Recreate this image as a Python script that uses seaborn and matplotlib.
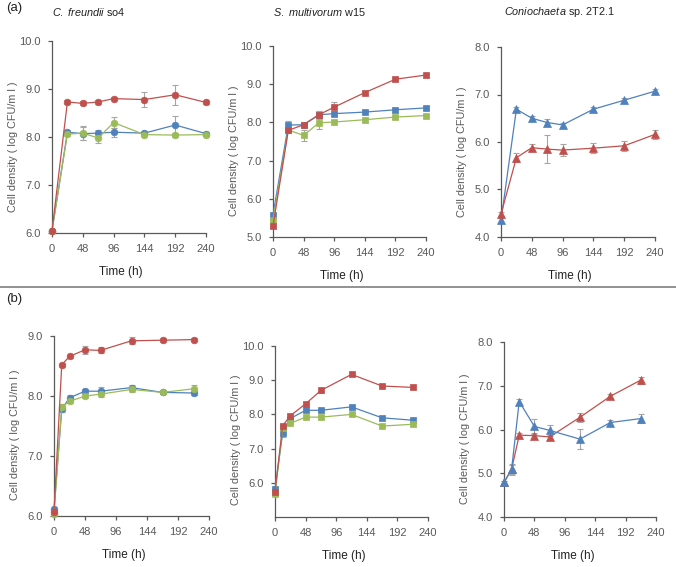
import matplotlib
matplotlib.use("Agg")
import matplotlib.pyplot as plt
import seaborn as sns
import pandas as pd

# ---------------- data ----------------
time_a = [0, 24, 48, 72, 96, 144, 192, 240]
time_b = [0, 12, 24, 48, 72, 120, 168, 216]

# (a) C. freundii so4
a1_red = [6.05, 8.73, 8.70, 8.73, 8.80, 8.78, 8.88, 8.72]
a1_red_err = [0.03, 0.04, 0.04, 0.04, 0.03, 0.15, 0.21, 0.04]
a1_blue = [6.05, 8.10, 8.07, 8.08, 8.10, 8.08, 8.25, 8.07]
a1_blue_err = [0.03, 0.04, 0.13, 0.07, 0.09, 0.03, 0.18, 0.03]
a1_green = [6.05, 8.06, 8.08, 7.98, 8.30, 8.05, 8.04, 8.05]
a1_green_err = [0.03, 0.03, 0.14, 0.10, 0.12, 0.03, 0.04, 0.03]

# (a) S. multivorum w15
a2_red = [5.29, 7.79, 7.94, 8.20, 8.40, 8.78, 9.13, 9.24]
a2_red_err = [0.04, 0.05, 0.04, 0.10, 0.14, 0.05, 0.05, 0.04]
a2_blue = [5.58, 7.93, 7.94, 8.20, 8.23, 8.27, 8.33, 8.38]
a2_blue_err = [0.04, 0.10, 0.05, 0.10, 0.06, 0.05, 0.05, 0.04]
a2_green = [5.44, 7.80, 7.66, 7.99, 8.01, 8.07, 8.14, 8.18]
a2_green_err = [0.04, 0.05, 0.15, 0.17, 0.05, 0.05, 0.05, 0.04]

# (a) Coniochaeta sp. 2T2.1
a3_blue = [4.35, 6.69, 6.50, 6.41, 6.36, 6.69, 6.88, 7.07]
a3_blue_err = [0.04, 0.04, 0.05, 0.08, 0.04, 0.04, 0.04, 0.04]
a3_red = [4.48, 5.67, 5.88, 5.85, 5.83, 5.87, 5.92, 6.16]
a3_red_err = [0.04, 0.10, 0.07, 0.30, 0.13, 0.10, 0.11, 0.09]

# (b) panel 1
b1_red = [6.07, 8.52, 8.66, 8.77, 8.76, 8.92, 8.93, 8.94]
b1_red_err = [0.03, 0.03, 0.03, 0.07, 0.05, 0.06, 0.03, 0.03]
b1_blue = [6.11, 7.78, 7.97, 8.08, 8.08, 8.14, 8.06, 8.05]
b1_blue_err = [0.03, 0.05, 0.04, 0.03, 0.07, 0.05, 0.03, 0.03]
b1_green = [6.04, 7.82, 7.91, 8.00, 8.03, 8.11, 8.06, 8.12]
b1_green_err = [0.03, 0.04, 0.03, 0.03, 0.05, 0.04, 0.03, 0.06]

# (b) panel 2
b2_red = [5.73, 7.67, 7.96, 8.31, 8.70, 9.17, 8.83, 8.79]
b2_red_err = [0.05, 0.05, 0.05, 0.04, 0.08, 0.04, 0.04, 0.05]
b2_blue = [5.83, 7.45, 7.88, 8.12, 8.12, 8.22, 7.90, 7.83]
b2_blue_err = [0.05, 0.10, 0.05, 0.05, 0.05, 0.05, 0.05, 0.06]
b2_green = [5.67, 7.59, 7.74, 7.92, 7.92, 8.00, 7.66, 7.71]
b2_green_err = [0.04, 0.05, 0.05, 0.04, 0.04, 0.04, 0.04, 0.05]

# (b) panel 3
b3_red = [4.79, 5.09, 5.87, 5.86, 5.83, 6.28, 6.76, 7.13]
b3_red_err = [0.04, 0.10, 0.04, 0.05, 0.05, 0.10, 0.05, 0.08]
b3_blue = [4.79, 5.09, 6.64, 6.07, 5.98, 5.78, 6.16, 6.25]
b3_blue_err = [0.04, 0.12, 0.06, 0.18, 0.13, 0.23, 0.06, 0.10]

titles = [r"$\it{C.\ freundii}$ so4", r"$\it{S.\ multivorum}$ w15", r"$\it{Coniochaeta}$ sp. 2T2.1"]
x_ticks = [0, 48, 96, 144, 192, 240]
y_label = "Cell density ( log CFU/m l )"
x_label = "Time (h)"

# ---------------- style ----------------
sns.set_style("ticks")
plt.rcParams["font.family"] = ["Liberation Sans", "DejaVu Sans"]
plt.rcParams["mathtext.fontset"] = "custom"
plt.rcParams["mathtext.rm"] = "Liberation Sans"
plt.rcParams["mathtext.it"] = "Liberation Sans:italic"

RED = "#C0504D"
BLUE = "#4F81BD"
GREEN = "#9BBB59"
AXC = "#595959"
ERRC = "#A6A6A6"

W, H = 676, 567
fig = plt.figure(figsize=(W / 100, H / 100), dpi=100)


def add_ax(left, right, top, bottom):
    return fig.add_axes([left / W, 1 - bottom / H, (right - left) / W, (bottom - top) / H])


def draw(ax, t, series, marker, ms, ylim, yticks):
    for y, e, c in series:
        ax.errorbar(t, y, yerr=e, fmt="none", ecolor=ERRC, elinewidth=0.8,
                    capsize=2.5, capthick=0.8, zorder=2, clip_on=False)
    for y, e, c in series:
        df = pd.DataFrame({"t": t, "y": y})
        sns.lineplot(data=df, x="t", y="y", ax=ax, color=c, marker=marker,
                     markersize=ms, markeredgecolor=c, markeredgewidth=0.5,
                     linewidth=0.9, zorder=3, clip_on=False)
    ax.set_xlim(0, 240)
    ax.set_ylim(*ylim)
    ax.set_xticks(x_ticks)
    ax.set_yticks(yticks)
    ax.set_yticklabels([f"{v:.1f}" for v in yticks])
    ax.tick_params(axis="both", direction="out", length=3, width=0.9,
                   colors=AXC, labelsize=8, labelcolor=AXC)
    ax.tick_params(axis="y", pad=5)
    ax.tick_params(axis="x", pad=5)
    for s in ["top", "right"]:
        ax.spines[s].set_visible(False)
    for s in ["left", "bottom"]:
        ax.spines[s].set_color(AXC)
        ax.spines[s].set_linewidth(0.9)
    ax.set_xlabel(x_label, fontsize=8.5, color="#222222")
    ax.set_ylabel(y_label, fontsize=7.8, color=AXC)
    bbox_w = ax.get_position().width * W
    bbox_h = ax.get_position().height * H
    ax.xaxis.set_label_coords(0.45, -33 / bbox_h)
    ax.yaxis.set_label_coords(-34 / bbox_w, 0.45)
    ax.grid(False)
    ax.set_facecolor("white")


# ---- (a) row ----
ax1 = add_ax(52, 206, 41, 233)
draw(ax1, time_a, [(a1_blue, a1_blue_err, BLUE), (a1_green, a1_green_err, GREEN),
                   (a1_red, a1_red_err, RED)], "o", 4.8, (6, 10), [6, 7, 8, 9, 10])
ax2 = add_ax(273, 426, 46, 237)
draw(ax2, time_a, [(a2_blue, a2_blue_err, BLUE), (a2_green, a2_green_err, GREEN),
                   (a2_red, a2_red_err, RED)], "s", 4.4, (5, 10), [5, 6, 7, 8, 9, 10])
ax3 = add_ax(501, 655, 47, 237)
draw(ax3, time_a, [(a3_blue, a3_blue_err, BLUE), (a3_red, a3_red_err, RED)],
     "^", 5.2, (4, 8), [4, 5, 6, 7, 8])

# ---- (b) row ----
bx1 = add_ax(54, 209, 336, 516)
draw(bx1, time_b, [(b1_blue, b1_blue_err, BLUE), (b1_green, b1_green_err, GREEN),
                   (b1_red, b1_red_err, RED)], "o", 4.8, (6, 9), [6, 7, 8, 9])
bx2 = add_ax(275, 428, 346, 517)
draw(bx2, time_b, [(b2_blue, b2_blue_err, BLUE), (b2_green, b2_green_err, GREEN),
                   (b2_red, b2_red_err, RED)], "s", 4.4, (5, 10), [6, 7, 8, 9, 10])
bx3 = add_ax(504, 656, 342, 517)
draw(bx3, time_b, [(b3_red, b3_red_err, RED), (b3_blue, b3_blue_err, BLUE)],
     "^", 5.2, (4, 8), [4, 5, 6, 7, 8])

# ---- titles, panel labels, separator ----
for xpx, txt in zip([52, 273, 504], titles):
    fig.text(xpx / W, 1 - 12 / H, txt, fontsize=7.8, color="#222222",
             ha="left", va="center")
fig.text(6 / W, 1 - 8 / H, "(a)", fontsize=9.5, color="#222222", ha="left", va="center")
fig.text(6 / W, 1 - 299 / H, "(b)", fontsize=9.5, color="#222222", ha="left", va="center")
fig.add_artist(plt.Line2D([0, 1], [1 - 287 / H, 1 - 287 / H], transform=fig.transFigure,
                          color="#7F7F7F", linewidth=1.2))

fig.savefig("out.png", dpi=100, facecolor="white")
